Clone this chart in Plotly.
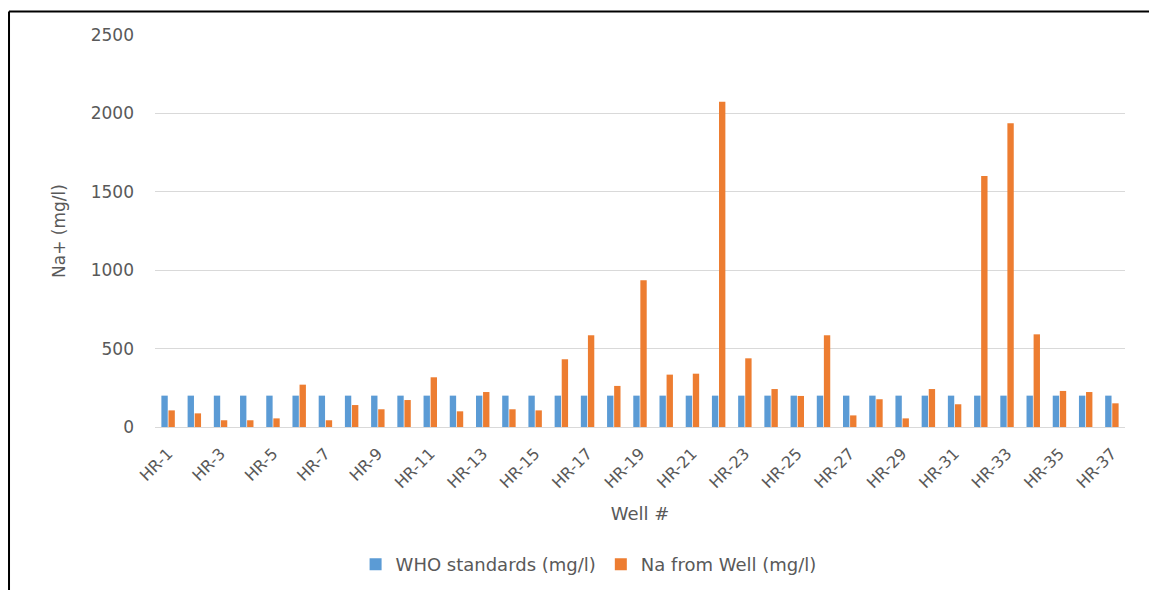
import plotly.graph_objects as go

wells = [f"HR-{i}" for i in range(1, 38)]
who_standard = [200] * 37
na_from_well = [106, 87, 43, 43, 55, 270, 43, 140, 113, 172,
                317, 100, 223, 113, 106, 432, 585, 262, 936, 334,
                340, 2075, 438, 242, 198, 585, 74, 177, 55, 242,
                145, 1600, 1937, 591, 230, 223, 151]
y_ticks = [0, 500, 1000, 1500, 2000, 2500]
x_tick_labels = wells[::2]

grey = "#595959"
font_family = "DejaVu Sans, Verdana, sans-serif"

fig = go.Figure()
fig.add_trace(go.Bar(x=wells, y=who_standard, name="WHO standards (mg/l)",
                     marker=dict(color="#5B9BD5", line=dict(width=0))))
fig.add_trace(go.Bar(x=wells, y=na_from_well, name="Na from Well (mg/l)",
                     marker=dict(color="#ED7D31", line=dict(width=0))))

fig.update_layout(
    width=1149, height=590,
    margin=dict(l=155, r=24, t=35, b=163, autoexpand=False),
    paper_bgcolor="white", plot_bgcolor="white",
    barmode="group", bargap=0.46, bargroupgap=0.1,
    font=dict(family=font_family, color=grey, size=15),
    showlegend=True,
    legend=dict(orientation="h", x=0.447, xanchor="center",
                yref="container", y=0.043, yanchor="middle",
                font=dict(size=18, color=grey), itemsizing="constant",
                traceorder="normal", itemwidth=30),
    xaxis=dict(
        tickmode="array", tickvals=x_tick_labels, ticktext=x_tick_labels,
        tickangle=-45, tickfont=dict(size=16, color=grey),
        showgrid=False, showline=True, linecolor="#D9D9D9", linewidth=1,
        ticks="", ticklabelstandoff=10, automargin=False,
        title=dict(text="Well #", font=dict(size=18, color=grey), standoff=16),
    ),
    yaxis=dict(
        range=[0, 2500], tickvals=y_ticks, tickfont=dict(size=17, color=grey),
        showgrid=True, gridcolor="#D9D9D9", gridwidth=1,
        zeroline=True, zerolinecolor="#D9D9D9", zerolinewidth=1,
        ticks="", ticklabelstandoff=20, automargin=False,
        title=dict(text="Na+ (mg/l)", font=dict(size=17, color=grey), standoff=20),
    ),
    shapes=[
        dict(type="line", xref="paper", yref="paper", x0=-0.1505, x1=1.05,
             y0=1.06, y1=1.06, line=dict(color="black", width=2)),
        dict(type="line", xref="paper", yref="paper", x0=-0.1505, x1=-0.1505,
             y0=1.06, y1=-0.45, line=dict(color="black", width=2)),
    ],
)

fig.write_html("out.html")
